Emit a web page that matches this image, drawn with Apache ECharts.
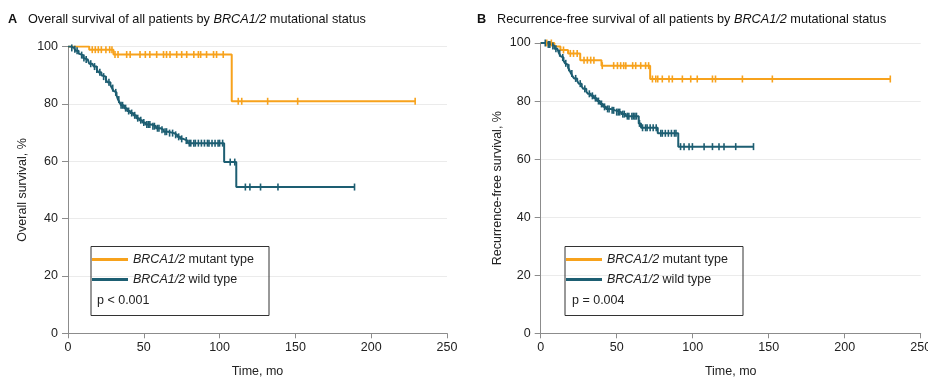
<!DOCTYPE html>
<html>
<head>
<meta charset="utf-8">
<script src="https://cdn.jsdelivr.net/npm/echarts@6/dist/echarts.min.js"></script>
<style>
html,body{margin:0;padding:0;background:#fff;}
#c{width:928px;height:380px;}
</style>
</head>
<body>
<div id="c"></div>
<script>
// ---- Data ----
const xTicks = [0, 50, 100, 150, 200, 250];
const yTicks = [0, 20, 40, 60, 80, 100];
const seriesNames = ['BRCA1/2 mutant type', 'BRCA1/2 wild type'];

// Panel A: overall survival
const osMutT = [0, 14, 30, 108, 229];
const osMutS = [100, 98.9, 97.2, 80.9, 80.9];
const osMutCens = [16, 18, 20, 22, 25, 27.5, 29, 31, 33, 38.7, 41, 47.5, 51, 54, 58.5, 63, 65, 67.3, 71.7, 75, 78.3, 83, 86, 87.5, 91.4, 96, 98, 102.4, 112.3, 114.6, 131.7, 151.5, 229];

const osWildT = [0, 2, 4, 5, 7, 8, 10, 11, 13, 14, 16, 17, 19, 20, 22, 23, 25, 26, 28, 29, 30, 31, 32, 33, 34, 35, 37, 39, 41, 43, 45, 47, 49, 51, 55, 58, 61, 63, 66, 70, 72, 74, 76, 79, 103, 111, 189];
const osWildS = [100, 99.5, 99, 98.5, 97.5, 97, 96, 95.5, 95, 94, 93.5, 93, 92, 91, 90, 89.5, 88.5, 87.5, 86.5, 85.5, 84.5, 84, 83, 81.5, 80.5, 79.5, 78.5, 77.5, 76.8, 76, 75, 74.3, 73.5, 72.8, 72.2, 71.5, 71, 70.3, 69.8, 69.2, 68.5, 67.8, 67.2, 66.3, 59.7, 51, 51];
const osWildCens = [2.5, 4.5, 6, 9, 10.5, 12, 15, 17.5, 19, 21, 23.5, 25, 27, 29.5, 31.5, 33.5, 35, 36, 38, 40, 42, 44, 46, 48, 50, 52, 53, 54, 56, 57, 59, 60, 62, 64, 65, 67, 69, 71, 73, 75, 78, 80, 81, 83, 84, 86, 88, 90, 92, 93, 95, 97, 99, 100, 102, 107, 110, 117, 120, 127, 138.5, 189];

// Panel B: recurrence-free survival
const rfsMutT = [0, 9, 13, 18, 26, 40, 72, 230];
const rfsMutS = [100, 98.8, 97.6, 96.4, 94.1, 92.2, 87.6, 87.6];
const rfsMutCens = [4, 7, 15, 19.5, 21.6, 24, 28.5, 30.7, 32.9, 35, 40.5, 48, 50.5, 52.6, 54.6, 56, 60.5, 62.5, 65.8, 69, 71, 73.5, 75.7, 77, 80, 84.4, 86.6, 93.2, 98.7, 103, 113, 115, 132.7, 152.4, 230];

const rfsWildT = [0, 4, 7, 9, 11, 12, 13, 14, 15, 16, 17, 18, 19, 20, 21, 22, 24, 25, 27, 28, 30, 31, 33, 35, 37, 39, 41, 43, 46, 49, 53, 56, 64.5, 66, 77, 90.5, 140];
const rfsWildS = [100, 99.5, 99, 98, 97.5, 96.5, 95.5, 95, 94, 93, 92.5, 91.5, 90.5, 89.5, 88.5, 87.8, 87, 86, 85, 84.2, 83.3, 82.5, 81.8, 81, 80, 79, 78, 77.3, 76.8, 76.2, 75.5, 74.8, 72.3, 70.8, 68.9, 64.3, 64.3];
const rfsWildCens = [3, 5, 6, 8, 10, 12.5, 14.5, 16.5, 18.5, 20.5, 23, 26, 29, 32, 34, 36, 38, 40, 42, 44, 45, 47, 48, 50, 51, 52, 54, 55, 57, 58, 60, 61, 62, 63, 65, 67, 69, 70, 72, 74, 76, 79, 80, 82, 84, 86, 88, 89, 92, 94.3, 97.6, 99.8, 107.5, 113, 117.3, 120.6, 128.3, 140];

const pValues = ['p < 0.001', 'p = 0.004'];
const titles = [
  ['A', 'Overall survival of all patients by ', 'BRCA1/2', ' mutational status'],
  ['B', 'Recurrence-free survival of all patients by ', 'BRCA1/2', ' mutational status']
];
const yNames = ['Overall survival, %', 'Recurrence-free survival, %'];
const xName = 'Time, mo';

// ---- Styles ----
const ORANGE = '#F7A21C';
const TEAL = '#1D5E72';
const AXIS = '#8c8c8c';
const FONT = 'Liberation Sans, Arial, sans-serif';

function steps(T, S) { return T.map((t, i) => [t, S[i]]); }
function survAt(T, S, t) {
  let v = S[0];
  for (let i = 0; i < T.length; i++) { if (T[i] <= t) v = S[i]; }
  return v;
}
function cens(T, S, C) { return C.map(t => [t, survAt(T, S, t)]); }

const grids = [
  { left: 68, right: 481, top: 46.5, bottom: 46.7, outerBoundsMode: 'none', containLabel: false },
  { left: 540.7, right: 7.3, top: 43, bottom: 46.7, outerBoundsMode: 'none', containLabel: false }
];

function xAxis(i) {
  return {
    gridIndex: i, type: 'value', min: 0, max: 250, interval: 50,
    name: xName, nameLocation: 'middle', nameGap: 32,
    nameTextStyle: { fontFamily: FONT, fontSize: 12.5, color: '#222' },
    axisLine: { show: true, lineStyle: { color: AXIS, width: 1 } },
    axisTick: { show: true, length: 5, lineStyle: { color: AXIS } },
    axisLabel: { fontFamily: FONT, fontSize: 12.5, color: '#222', margin: 8 },
    splitLine: { show: false }
  };
}
function yAxis(i) {
  return {
    gridIndex: i, type: 'value', min: 0, max: 100, interval: 20,
    name: yNames[i], nameLocation: 'middle', nameGap: i === 0 ? 39 : 37,
    nameTextStyle: { fontFamily: FONT, fontSize: 12.5, color: '#222' },
    axisLine: { show: true, lineStyle: { color: AXIS, width: 1 } },
    axisTick: { show: true, length: 6, lineStyle: { color: AXIS } },
    axisLabel: { fontFamily: FONT, fontSize: 12.5, color: '#222', margin: 10 },
    splitLine: { show: true, lineStyle: { color: '#ebebeb', width: 1 } }
  };
}

function lineSeries(name, i, T, S, color) {
  return {
    name: name, type: 'line', xAxisIndex: i, yAxisIndex: i, step: 'end',
    data: steps(T, S), showSymbol: false, symbol: 'none',
    lineStyle: { color: color, width: 2 }, itemStyle: { color: color },
    z: 3, silent: true
  };
}
function censSeries(name, i, T, S, C, color) {
  return {
    name: name + ' censored', type: 'scatter', xAxisIndex: i, yAxisIndex: i,
    data: cens(T, S, C), symbol: 'rect', symbolSize: [1.6, 7],
    itemStyle: { color: color, opacity: 1 }, z: 4, silent: true
  };
}

function titleOf(i, left) {
  const t = titles[i];
  return {
    left: left, top: 13, padding: 0,
    text: '{b|' + t[0] + '}{n|' + t[1] + '}{i|' + t[2] + '}{n|' + t[3] + '}',
    textStyle: {
      fontFamily: FONT, fontSize: 12.7, color: '#111', fontWeight: 'normal',
      rich: {
        b: { fontFamily: FONT, fontSize: 12.7, fontWeight: 'bold', color: '#111', width: 20 },
        n: { fontFamily: FONT, fontSize: 12.7, color: '#111' },
        i: { fontFamily: FONT, fontSize: 12.7, color: '#111', fontStyle: 'italic' }
      }
    }
  };
}

function legendOf(left) {
  return {
    left: left, top: 253, orient: 'vertical', padding: 0, itemGap: 7,
    itemWidth: 36, itemHeight: 3, icon: 'rect',
    data: seriesNames,
    selectedMode: false,
    formatter: function (name) {
      const parts = name.split(' ');
      return '{i|' + parts[0] + '} ' + parts.slice(1).join(' ');
    },
    textStyle: {
      fontFamily: FONT, fontSize: 12.5, color: '#222',
      rich: { i: { fontFamily: FONT, fontSize: 12.5, color: '#222', fontStyle: 'italic' } }
    }
  };
}

function boxOf(x, px, pText) {
  return [
    { type: 'rect', left: x, top: 244, shape: { width: 178, height: 69 },
      style: { fill: 'none', stroke: '#333', lineWidth: 1 }, z: 10 },
    { type: 'text', left: px, top: 294,
      style: { text: pText, fontFamily: FONT, fontSize: 12.5, fill: '#222' }, z: 10 }
  ];
}

const chart = echarts.init(document.getElementById('c'), null, { renderer: 'canvas' });
chart.setOption({
  animation: false,
  backgroundColor: '#fff',
  title: [titleOf(0, 8), titleOf(1, 477)],
  grid: grids,
  xAxis: [xAxis(0), xAxis(1)],
  yAxis: [yAxis(0), yAxis(1)],
  legend: [legendOf(92), legendOf(566)],
  graphic: boxOf(88.5, 97, pValues[0]).concat(boxOf(562.5, 572, pValues[1])),
  series: [
    lineSeries(seriesNames[0], 0, osMutT, osMutS, ORANGE),
    lineSeries(seriesNames[1], 0, osWildT, osWildS, TEAL),
    censSeries(seriesNames[0], 0, osMutT, osMutS, osMutCens, ORANGE),
    censSeries(seriesNames[1], 0, osWildT, osWildS, osWildCens, TEAL),
    lineSeries(seriesNames[0], 1, rfsMutT, rfsMutS, ORANGE),
    lineSeries(seriesNames[1], 1, rfsWildT, rfsWildS, TEAL),
    censSeries(seriesNames[0], 1, rfsMutT, rfsMutS, rfsMutCens, ORANGE),
    censSeries(seriesNames[1], 1, rfsWildT, rfsWildS, rfsWildCens, TEAL)
  ]
});
</script>
</body>
</html>
